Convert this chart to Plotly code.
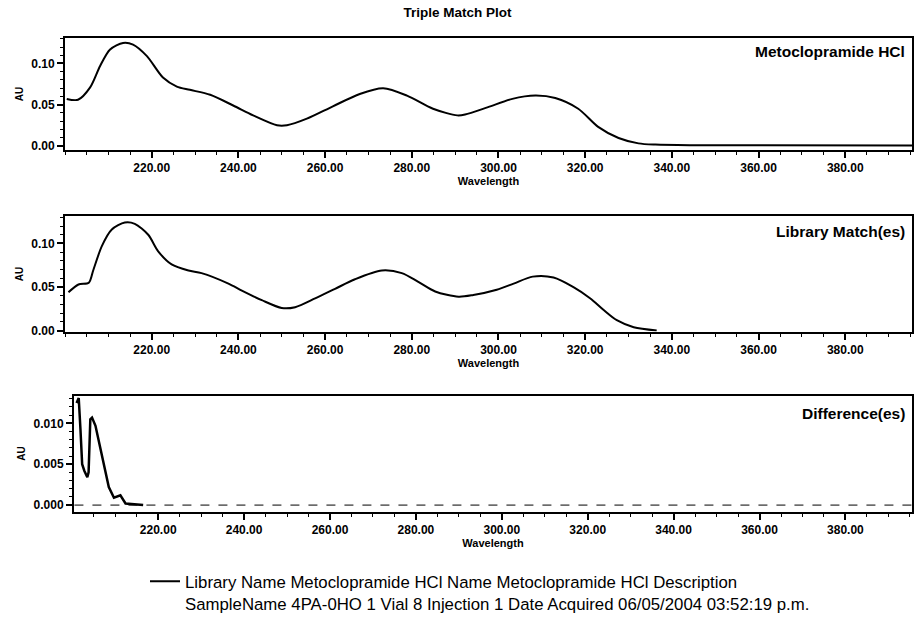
import plotly.graph_objects as go

# ---- data ----
sample_wl = [200.4, 203.0, 205.8, 208.1, 210.4, 213.4, 215.7, 218.9, 222.6, 225.8, 228.8,
             233.5, 238.8, 243.4, 248.9, 251.2, 255.8, 261.8, 268.0, 273.4, 278.9, 284.9,
             290.5, 292.3, 297.6, 303.2, 308.5, 313.1, 318.4, 323.0, 327.7, 332.3, 336.2,
             345.0, 395.4]
sample_au = [0.057, 0.056, 0.071, 0.097, 0.117, 0.125, 0.123, 0.109, 0.083, 0.072, 0.068,
             0.062, 0.049, 0.037, 0.025, 0.025, 0.033, 0.048, 0.063, 0.070, 0.061, 0.045,
             0.037, 0.038, 0.047, 0.057, 0.061, 0.058, 0.045, 0.023, 0.0095, 0.003, 0.0015,
             0.0008, 0.0005]

library_wl = [200.8, 203.1, 205.5, 206.5, 208.5, 210.8, 213.8, 216.1, 219.2, 221.5, 224.6,
              228.5, 231.5, 237.7, 240.8, 245.4, 250.0, 253.1, 257.7, 262.3, 266.9, 273.1,
              277.7, 281.5, 285.4, 290.8, 294.2, 299.6, 303.5, 307.9, 312.7, 317.3, 321.2,
              324.2, 327.3, 331.2, 336.5]
library_au = [0.044, 0.053, 0.055, 0.069, 0.097, 0.116, 0.124, 0.1225, 0.110, 0.091, 0.076,
              0.069, 0.066, 0.054, 0.046, 0.035, 0.026, 0.027, 0.037, 0.048, 0.059, 0.069,
              0.066, 0.056, 0.045, 0.039, 0.041, 0.047, 0.054, 0.062, 0.061, 0.050, 0.037,
              0.024, 0.012, 0.004, 0.0003]

diff_wl = [201.0, 201.5, 201.9, 202.3, 202.8, 203.5, 203.8, 204.1, 204.2, 204.6, 205.4,
           206.6, 207.5, 208.5, 209.7, 211.2, 212.4, 215.1, 216.5]
diff_au = [0.0125, 0.0131, 0.0093, 0.0050, 0.0042, 0.0034, 0.0040, 0.0075, 0.0105, 0.0107,
           0.0097, 0.0068, 0.0045, 0.0022, 0.0009, 0.0012, 0.0002, 0.0001, 0.0]

x_ticks = [220, 240, 260, 280, 300, 320, 340, 360, 380]
x_tick_text = ["220.00", "240.00", "260.00", "280.00", "300.00", "320.00", "340.00", "360.00", "380.00"]
y_ticks_top = [0.00, 0.05, 0.10]
y_ticks_top_text = ["0.00", "0.05", "0.10"]
y_ticks_diff = [0.000, 0.005, 0.010]
y_ticks_diff_text = ["0.000", "0.005", "0.010"]

panel_labels = ["Metoclopramide HCl", "Library Match(es)", "Difference(es)"]
legend_name = ("Library Name Metoclopramide HCl Name Metoclopramide HCl Description<br>"
               "SampleName 4PA-0HO 1 Vial 8 Injection 1 Date Acquired 06/05/2004 03:52:19 p.m.")

W, H = 915, 621
FONT = "Liberation Sans, Arial, sans-serif"

fig = go.Figure()
fig.add_trace(go.Scatter(x=sample_wl, y=sample_au, mode="lines", xaxis="x", yaxis="y",
                         line=dict(color="black", width=2, shape="spline", smoothing=0.8),
                         name=legend_name, showlegend=True))
fig.add_trace(go.Scatter(x=library_wl, y=library_au, mode="lines", xaxis="x2", yaxis="y2",
                         line=dict(color="black", width=2, shape="spline", smoothing=0.8),
                         showlegend=False))
fig.add_trace(go.Scatter(x=diff_wl, y=diff_au, mode="lines", xaxis="x3", yaxis="y3",
                         line=dict(color="black", width=2.5), showlegend=False))
# zero reference line in difference panel
fig.add_trace(go.Scatter(x=[200.5, 395.5], y=[0, 0], mode="lines", xaxis="x3", yaxis="y3",
                         line=dict(color="black", width=1, dash="dash"), showlegend=False,
                         hoverinfo="skip"))

def px_y(top, bottom):
    return [1 - bottom / H, 1 - top / H]

tickfont = dict(family=FONT, size=12, color="black", weight="bold")

def xaxis(domain, anchor, rng):
    return dict(domain=domain, anchor=anchor, range=rng, tickvals=x_ticks, ticktext=x_tick_text,
                ticks="outside", ticklen=6, tickwidth=1.5, tickcolor="black",
                minor=dict(ticks="outside", dtick=5, tick0=200, ticklen=3, tickcolor="black", tickwidth=1),
                showline=True, linecolor="black", linewidth=2, mirror=True, showgrid=False,
                zeroline=False, tickfont=tickfont,
                title=dict(text="Wavelength", font=dict(family=FONT, size=11, color="black", weight="bold"),
                           standoff=2))

def yaxis(domain, anchor, rng, tv, tt, dminor):
    return dict(domain=domain, anchor=anchor, range=rng, tickvals=tv, ticktext=tt,
                ticks="outside", ticklen=6, tickwidth=1.5, tickcolor="black",
                minor=dict(ticks="outside", dtick=dminor, tick0=0, ticklen=3, tickcolor="black", tickwidth=1),
                showline=True, linecolor="black", linewidth=2, mirror=True, showgrid=False,
                zeroline=False, tickfont=tickfont,
                title=dict(text="AU", font=dict(family=FONT, size=10, color="black", weight="bold"),
                           standoff=6))

xd12 = [65 / W, 912 / W]
xd3 = [74 / W, 912 / W]
fig.update_layout(
    width=W, height=H, margin=dict(l=0, r=0, t=0, b=0),
    paper_bgcolor="white", plot_bgcolor="white",
    xaxis=xaxis(xd12, "y", [200.0, 395.4]),
    yaxis=yaxis(px_y(39, 152), "x", [-0.0045, 0.1305], y_ticks_top, y_ticks_top_text, 0.01),
    xaxis2=xaxis(xd12, "y2", [200.0, 395.4]),
    yaxis2=yaxis(px_y(220, 337), "x2", [-0.001, 0.131], y_ticks_top, y_ticks_top_text, 0.01),
    xaxis3=xaxis(xd3, "y3", [200.4, 395.5]),
    yaxis3=yaxis(px_y(402, 520), "x3", [-0.0008, 0.0134], y_ticks_diff, y_ticks_diff_text, 0.001),
    showlegend=True,
    legend=dict(x=145 / W, y=1 - 573 / H, xanchor="left", yanchor="top", valign="top",
                font=dict(family=FONT, size=16.8, color="black"), bgcolor="rgba(0,0,0,0)",
                tracegroupgap=0),
    title=dict(text="<b>Triple Match Plot</b>", x=0.5, xanchor="center", y=1 - 12 / H, yanchor="middle",
               font=dict(family=FONT, size=13.5, color="black")),
)

label_y = [52, 235, 420]
for lbl, yy in zip(panel_labels, label_y):
    fig.add_annotation(text=lbl, xref="paper", yref="paper", x=907 / W, y=1 - yy / H,
                       xanchor="right", yanchor="middle", showarrow=False,
                       font=dict(family=FONT, size=15.5, color="black", weight="bold"))

fig.write_html("out.html")
